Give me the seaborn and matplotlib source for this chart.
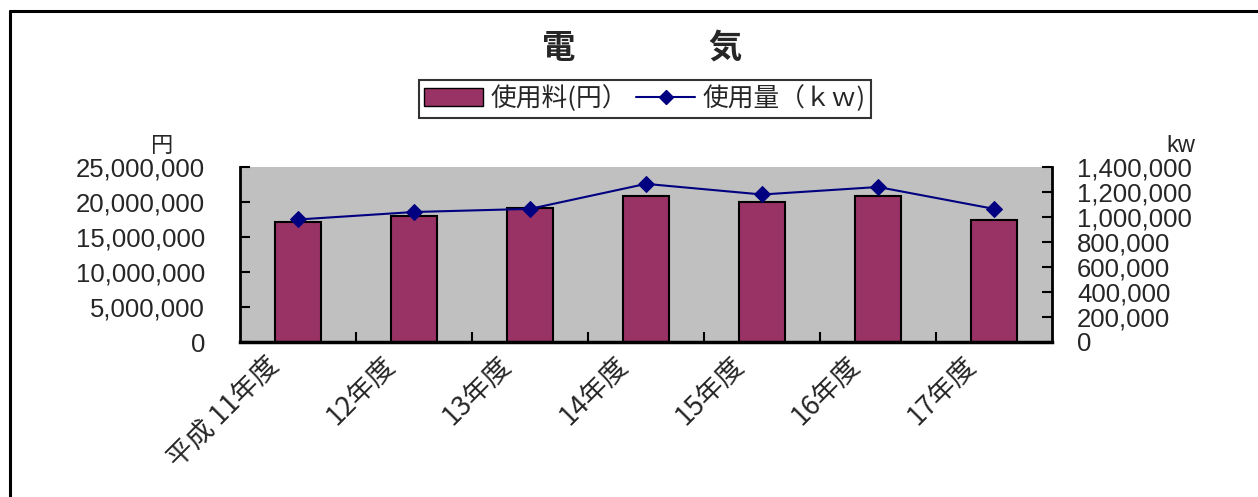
import numpy as np
import matplotlib
matplotlib.use("Agg")
import matplotlib.pyplot as plt
import matplotlib.transforms as mtransforms
from matplotlib.ticker import FuncFormatter, MultipleLocator, FixedLocator
from matplotlib.lines import Line2D
from matplotlib.patches import Patch
import seaborn as sns

# ---- data ----
categories = ["平成 11年度", "12年度", "13年度", "14年度", "15年度", "16年度", "17年度"]
cost_yen = [17150000, 18000000, 19150000, 20850000, 20000000, 20850000, 17450000]
usage_kw = [980000, 1040000, 1065000, 1265000, 1180000, 1240000, 1065000]
title_text = "電　　　　気"
legend_labels = ["使用料(円）", "使用量（ｋｗ)"]
left_unit = "円"
right_unit = "kw"

sns.set_theme(style="white")
plt.rcParams['font.family'] = ['Liberation Sans', 'Noto Sans CJK JP', 'DejaVu Sans']

W, H = 1258, 497
fig = plt.figure(figsize=(W / 100, H / 100), dpi=100)
fig.patch.set_facecolor("white")

ax = fig.add_axes([240 / W, 1 - 342 / H, (1052 - 240) / W, (342 - 167) / H])
ax.set_facecolor("#C0C0C0")

bar_color = "#993366"
line_color = "#000080"

sns.barplot(x=categories, y=cost_yen, ax=ax, color=bar_color, width=0.4,
            edgecolor="black", linewidth=1.5, saturation=1)
ax.set_ylim(0, 25000000)
ax.set_xlim(-0.5, len(categories) - 0.5)
ax.yaxis.set_major_locator(MultipleLocator(5000000))
fmt = FuncFormatter(lambda v, p: f"{int(round(v)):,}")
ax.yaxis.set_major_formatter(fmt)
ax.set_xlabel("")
ax.set_ylabel("")

ax2 = ax.twinx()
sns.lineplot(x=np.arange(len(categories)), y=usage_kw, ax=ax2, color=line_color,
             marker="D", markersize=8, markeredgecolor=line_color, linewidth=1.5)
ax2.set_ylim(0, 1400000)
ax2.yaxis.set_major_locator(MultipleLocator(200000))
ax2.yaxis.set_major_formatter(fmt)
ax2.set_ylabel("")
ax2.set_xlim(-0.5, len(categories) - 0.5)

# spines
for a in (ax, ax2):
    a.spines["top"].set_visible(False)
    for s in ("left", "right", "bottom"):
        a.spines[s].set_color("black")
ax.spines["left"].set_linewidth(2)
ax.spines["bottom"].set_linewidth(2.5)
ax2.spines["right"].set_linewidth(2)
ax2.spines["left"].set_visible(False)
ax2.spines["bottom"].set_visible(False)
ax.spines["right"].set_visible(False)

# ticks
ax.tick_params(axis="y", direction="in", length=7.5, width=1.5, color="black",
               labelsize=18.5, pad=25, left=True)
ax2.tick_params(axis="y", direction="in", length=7.5, width=1.5, color="black",
                labelsize=18.5, pad=18, right=True)
ax.xaxis.set_minor_locator(FixedLocator(np.arange(0.5, len(categories) - 0.5, 1)))
ax.tick_params(axis="x", which="minor", direction="in", length=7.5, width=1.5,
               color="black", bottom=True)
ax.tick_params(axis="x", which="major", length=0, pad=7)
ax.set_xticks(range(len(categories)))
ax.set_xticklabels(categories, rotation=45, ha="right", va="top",
                   rotation_mode="anchor", fontsize=19.5,
                   family=["Noto Sans CJK JP", "DejaVu Sans"])
offset = mtransforms.ScaledTranslation(-32 / 100, 0, fig.dpi_scale_trans)
for lbl in ax.get_xticklabels():
    lbl.set_transform(lbl.get_transform() + offset)

ax.grid(False)
ax2.grid(False)
ax2.set_zorder(ax.get_zorder() + 1)
ax2.patch.set_visible(False)

# title
fig.text(642 / W, 1 - 48 / H, title_text, ha="center", va="center", fontsize=24,
         fontweight="bold", family=["Noto Sans CJK JP", "DejaVu Sans"])

# unit labels
fig.text(162 / W, 1 - 145 / H, left_unit, ha="center", va="center", fontsize=16,
         family=["Noto Sans CJK JP", "DejaVu Sans"])
fig.text(1181 / W, 1 - 146 / H, right_unit, ha="center", va="center", fontsize=17,
         family=["Liberation Sans"])

# legend
handles = [Patch(facecolor=bar_color, edgecolor="black", linewidth=1),
           Line2D([0], [0], color=line_color, marker="D", markersize=7, linewidth=1.5)]
leg = fig.legend(handles, legend_labels, loc="center", bbox_to_anchor=(645 / W, 1 - 99 / H),
                 ncol=2, frameon=True, fancybox=False, shadow=False,
                 prop={"family": ["Noto Sans CJK JP", "DejaVu Sans"], "size": 18.5},
                 handlelength=2.3, handleheight=0.7, handletextpad=0.3,
                 columnspacing=0.3, borderpad=0.2, borderaxespad=0)
leg.get_frame().set_edgecolor("black")
leg.get_frame().set_linewidth(1.5)

# outer frame (top and left lines)
fig.add_artist(Line2D([10 / W, 10 / W], [0, 1 - 11 / H], transform=fig.transFigure,
                      color="black", linewidth=2.2))
fig.add_artist(Line2D([10 / W, 1], [1 - 11 / H, 1 - 11 / H], transform=fig.transFigure,
                      color="black", linewidth=2.2))

fig.savefig("out.png", dpi=100)
